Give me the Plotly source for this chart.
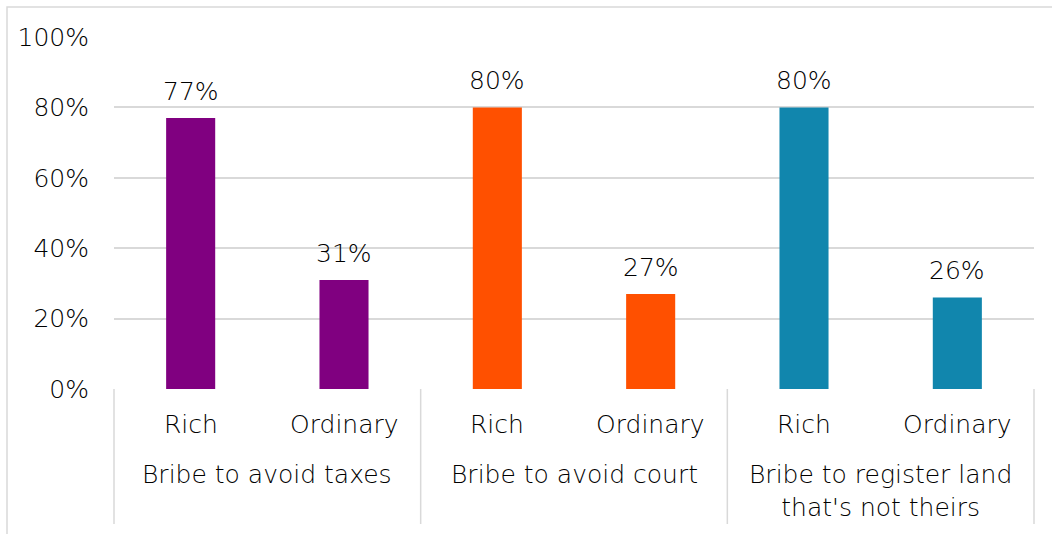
import plotly.graph_objects as go

# Survey shares (fraction of respondents) by scenario and group
scenarios = ["Bribe to avoid taxes", "Bribe to avoid court",
             "Bribe to register land<br>that's not theirs"]
groups = ["Rich", "Ordinary"]
rich_values = [0.77, 0.80, 0.80]
ordinary_values = [0.31, 0.27, 0.26]
scenario_colors = ["#800080", "#FF5000", "#1186AD"]
y_ticks = [0, 0.2, 0.4, 0.6, 0.8, 1.0]

FONT = "DejaVu Sans"
FS = 25
TXT = "#000000"
GRID = "#d9d9d9"


def label_font():
    return dict(family=FONT, size=FS, color=TXT, weight=300)


xs, ys, cols, sub = [], [], [], []
for i, (r, o) in enumerate(zip(rich_values, ordinary_values)):
    for j, v in enumerate((r, o)):
        xs.append(2 * i + j)
        ys.append(v)
        cols.append(scenario_colors[i])
        sub.append(groups[j])

fig = go.Figure(go.Bar(x=xs, y=ys, marker=dict(color=cols, line=dict(width=0)),
                       width=0.32, hoverinfo="skip"))

annotations = []
# value labels above bars
for x, v in zip(xs, ys):
    annotations.append(dict(x=x, y=v, xref="x", yref="y", text=f"{round(v * 100)}%",
                            showarrow=False, yanchor="bottom", yshift=10,
                            font=label_font()))
# group labels under each bar
for x, s in zip(xs, sub):
    annotations.append(dict(x=x, y=-0.1, xref="x", yref="paper", text=s,
                            showarrow=False, yanchor="middle", font=label_font()))
# scenario labels
for i, s in enumerate(scenarios):
    annotations.append(dict(x=2 * i + 0.5, y=-0.197, xref="x", yref="paper", text=s,
                            showarrow=False, yanchor="top", font=label_font()))

shapes = []
# dividers between scenario blocks
for k in range(4):
    shapes.append(dict(type="line", xref="paper", yref="paper", x0=k / 3, x1=k / 3,
                       y0=0, y1=-0.3835, line=dict(color=GRID, width=1.5)))
# outer frame
shapes.append(dict(type="rect", xref="paper", yref="paper",
                   x0=-0.1163, x1=1.05, y0=1.0852, y1=-0.45,
                   line=dict(color=GRID, width=1.5), fillcolor="rgba(0,0,0,0)",
                   layer="below"))

fig.update_layout(
    width=1052, height=534,
    margin=dict(l=114, r=18, t=37, b=145),
    paper_bgcolor="white", plot_bgcolor="white",
    showlegend=False,
    xaxis=dict(range=[-0.5, 5.5], showticklabels=False, showgrid=False,
               zeroline=False, showline=False, ticks=""),
    yaxis=dict(range=[0, 1.0], tickvals=y_ticks, tickformat=".0%",
               showgrid=True, gridcolor=GRID, gridwidth=1.5, zeroline=False,
               showline=False, ticks="", ticklabelstandoff=24,
               tickfont=label_font()),
    annotations=annotations,
    shapes=shapes,
)

fig.write_html("out.html")
